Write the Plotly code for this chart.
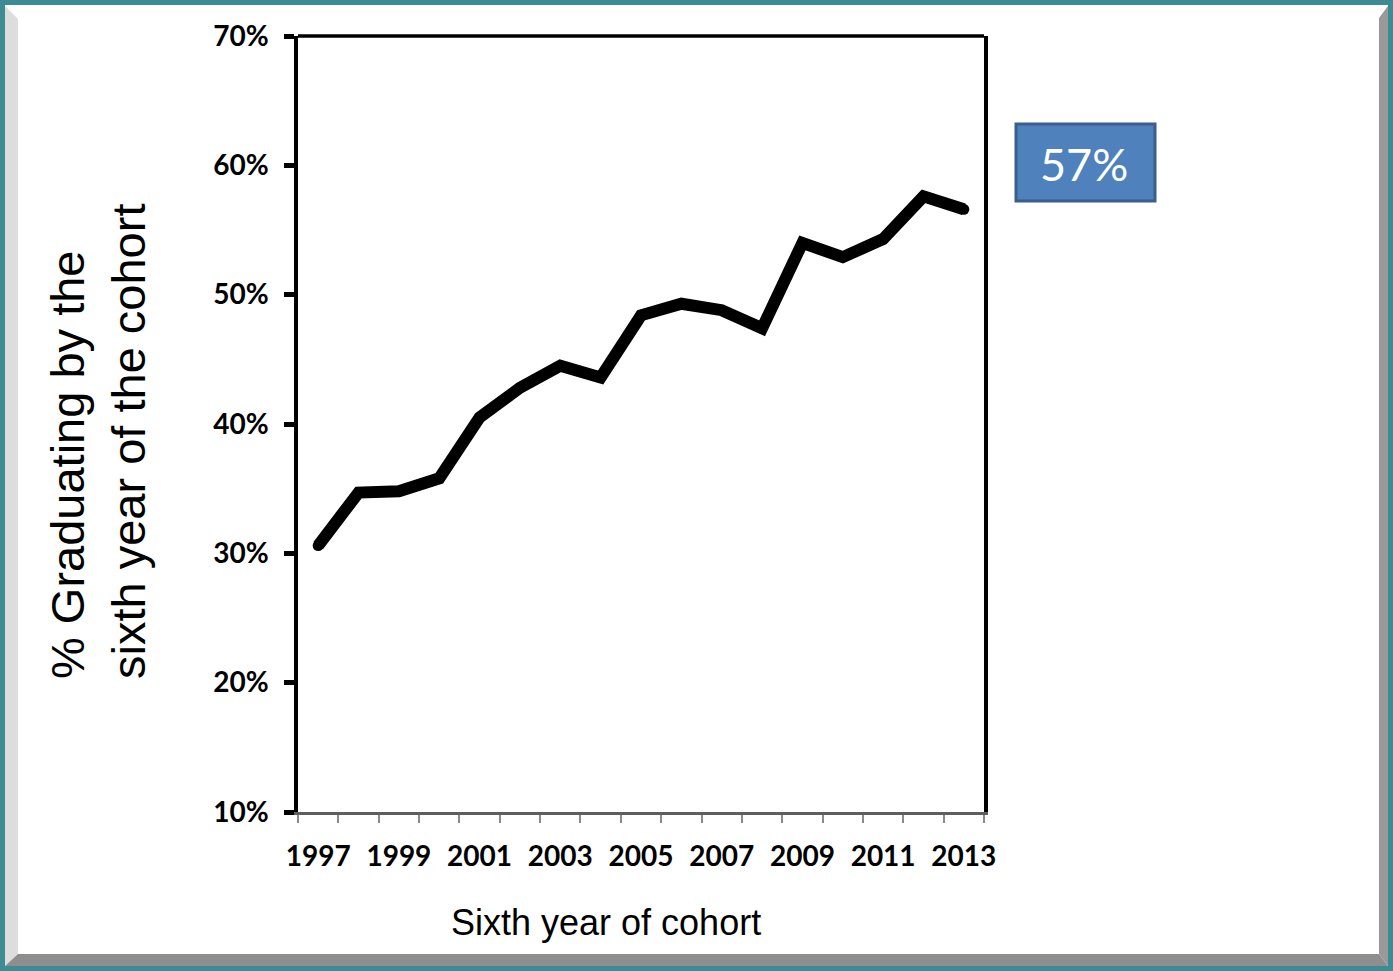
import plotly.graph_objects as go

years = list(range(1997, 2014))
grad_pct = [30.6, 34.7, 34.8, 35.8, 40.5, 42.8, 44.5, 43.6, 48.4, 49.3,
            48.8, 47.4, 54.0, 52.9, 54.3, 57.6, 56.6]
tick_years = [1997, 1999, 2001, 2003, 2005, 2007, 2009, 2011, 2013]
tick_labels = [str(y) for y in tick_years]
callout_text = "57%"

W, H = 1393, 971
L, R, T, B = 298, 984, 36, 812


def px(x):
    return (x - L) / (R - L)


def py(y):
    return (B - y) / (B - T)


fig = go.Figure()
fig.add_trace(go.Scatter(
    x=years, y=grad_pct, mode="lines+markers",
    line=dict(color="black", width=12),
    marker=dict(color="black", size=11, line=dict(width=0)),
    hoverinfo="skip", showlegend=False,
))

teal = "#3D8C93"
shapes = [
    dict(type="rect", xref="paper", yref="paper", x0=px(5), x1=px(1388), y0=py(5), y1=py(966),
         fillcolor="white", line=dict(width=0), layer="below"),
    dict(type="path", xref="paper", yref="paper",
         path=f"M {px(5)},{py(6)} L {px(18)},{py(19)} L {px(18)},{py(954)} L {px(5)},{py(966)} Z",
         fillcolor="#DDDDDD", line=dict(width=0), layer="below"),
    dict(type="path", xref="paper", yref="paper",
         path=f"M {px(5)},{py(966)} L {px(18)},{py(954)} L {px(1379)},{py(954)} L {px(1388)},{py(966)} Z",
         fillcolor="#8E8E8E", line=dict(width=0), layer="below"),
    dict(type="path", xref="paper", yref="paper",
         path=f"M {px(1379)},{py(18)} L {px(1388)},{py(6)} L {px(1388)},{py(966)} L {px(1379)},{py(954)} Z",
         fillcolor="#999999", line=dict(width=0), layer="below"),
    dict(type="line", xref="paper", yref="paper", x0=0, x1=1, y0=1, y1=1,
         line=dict(color="black", width=3.5)),
    dict(type="rect", xref="paper", yref="paper", x0=px(1016), x1=px(1155), y0=py(124), y1=py(201),
         fillcolor="#4F81BD", line=dict(color="#3A5F8C", width=3)),
]

annotations = [
    dict(text=callout_text, xref="paper", yref="paper", x=px(1084), y=py(164),
         xanchor="center", yanchor="middle", showarrow=False,
         font=dict(family="Lato", size=45, color="white")),
    dict(text="Sixth year of cohort", xref="paper", yref="paper", x=px(606), y=py(922),
         xanchor="center", yanchor="middle", showarrow=False,
         font=dict(family="Liberation Sans", size=36, color="black")),
    dict(text="% Graduating by the<br>sixth year of the cohort", xref="paper", yref="paper",
         x=px(98), y=py(442), xanchor="center", yanchor="middle", showarrow=False,
         textangle=-90, align="left",
         font=dict(family="Liberation Sans", size=47, color="black")),
]

fig.update_layout(
    width=W, height=H,
    margin=dict(l=L, r=W - R, t=T, b=H - B, pad=0),
    paper_bgcolor=teal, plot_bgcolor="white",
    shapes=shapes, annotations=annotations,
    xaxis=dict(
        range=[1996.5, 2013.5], tickmode="array", tickvals=tick_years, ticktext=tick_labels,
        ticks="", showgrid=False, zeroline=False,
        showline=True, linecolor="#5E5E5E", linewidth=3,
        tickfont=dict(family="Lato", size=28, color="black", weight="bold"),
        ticklabelstandoff=17,
        minor=dict(ticks="outside", tick0=1996.5, dtick=1, ticklen=8, tickwidth=1.5,
                   tickcolor="#8A8A8A", showgrid=False),
    ),
    yaxis=dict(
        range=[10, 70], tickmode="linear", tick0=10, dtick=10, ticksuffix="%",
        ticks="outside", ticklen=10, tickwidth=5, tickcolor="black",
        showgrid=False, zeroline=False,
        showline=True, linecolor="black", linewidth=3.5, mirror=True,
        tickfont=dict(family="Lato", size=28, color="black", weight="bold"),
        ticklabelstandoff=10,
    ),
)

fig.write_html("out.html", config={"displayModeBar": False},
               post_script="document.body.style.margin='0';")
